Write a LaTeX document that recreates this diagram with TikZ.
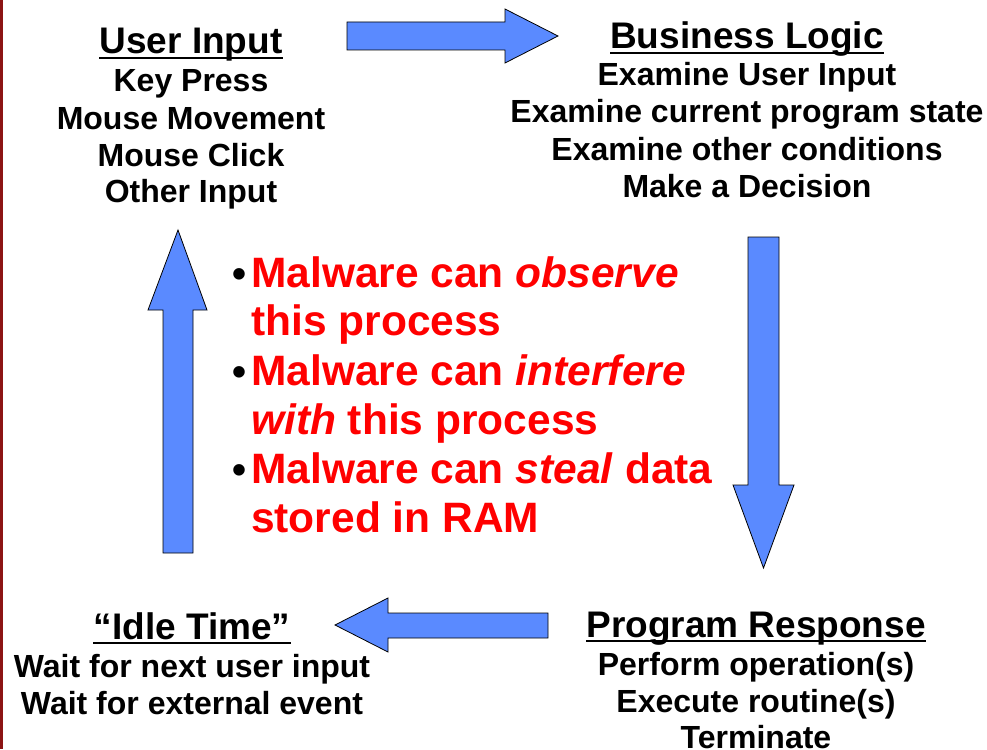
\documentclass[tikz,border=0pt]{standalone}
\usepackage{fontspec}
\setmainfont{Liberation Sans}
\definecolor{arrowblue}{RGB}{90,138,255}
\definecolor{slidered}{RGB}{255,0,0}
\definecolor{barred}{RGB}{140,20,20}
\begin{document}
\begin{tikzpicture}[x=1pt,y=-1pt,
  blockarrow/.style={fill=arrowblue,draw=black,line width=0.8pt,line join=miter},
  ttl/.style={inner sep=0pt,anchor=base,font=\fontsize{37}{37}\selectfont\bfseries},
  bodyline/.style={inner sep=0pt,anchor=base,font=\fontsize{32}{32}\selectfont\bfseries},
  redline/.style={inner sep=0pt,anchor=base west,text=slidered,font=\fontsize{42.5}{42.5}\selectfont\bfseries},
  bul/.style={inner sep=0pt,anchor=base,font=\fontsize{40}{40}\selectfont\bfseries},
  uline/.style={line width=2.5pt}]
\useasboundingbox (0,0) rectangle (987,749);
\fill[white] (0,0) rectangle (987,749);
\fill[barred] (0,0) rectangle (3,749);

% block arrows
\draw[blockarrow] (347,22) -- (505,22) -- (505,9) -- (558,36) -- (505,63) -- (505,50) -- (347,50) -- cycle;
\draw[blockarrow] (748,237) -- (779,237) -- (779,485) -- (794,485) -- (763.5,568) -- (733,485) -- (748,485) -- cycle;
\draw[blockarrow] (163,553) -- (193,553) -- (193,310) -- (207,310) -- (178,230) -- (148,310) -- (163,310) -- cycle;
\draw[blockarrow] (548,613) -- (388,613) -- (388,598) -- (335,625) -- (388,652) -- (388,638) -- (548,638) -- cycle;

% User Input
\node[ttl] (uiT) at (191,54) {User Input};
\draw[uline] ([yshift=-4pt]uiT.base west) -- ([yshift=-4pt]uiT.base east);
\node[bodyline] (ui1) at (191,92) {Key Press};
\node[bodyline] (ui2) at (191,129) {Mouse Movement};
\node[bodyline] (ui3) at (191,166) {Mouse Click};
\node[bodyline] (ui4) at (191,202) {Other Input};

% Business Logic
\node[ttl] (blT) at (747,49) {Business Logic};
\draw[uline] ([yshift=-4pt]blT.base west) -- ([yshift=-4pt]blT.base east);
\node[bodyline] (bl1) at (747,86) {Examine User Input};
\node[bodyline] (bl2) at (747,123) {Examine current program state};
\node[bodyline] (bl3) at (747,160) {Examine other conditions};
\node[bodyline] (bl4) at (747,197) {Make a Decision};

% Program Response
\node[ttl] (prT) at (756,637) {Program Response};
\draw[uline] ([yshift=-4pt]prT.base west) -- ([yshift=-4pt]prT.base east);
\node[bodyline] (pr1) at (756,675) {Perform operation(s)};
\node[bodyline] (pr2) at (756,712) {Execute routine(s)};
\node[bodyline] (pr3) at (756,748) {Terminate};

% Idle Time
\node[ttl] (itT) at (192,639) {“Idle Time”};
\draw[uline] ([yshift=-4pt]itT.base west) -- ([yshift=-4pt]itT.base east);
\node[bodyline] (it1) at (192,677) {Wait for next user input};
\node[bodyline] (it2) at (192,714) {Wait for external event};

% red bullets
\node[bul] (b1) at (239,287) {•};
\node[redline] (r1) at (251,287) {Malware can \textit{observe}};
\node[redline] (r2) at (251,335) {this process};
\node[bul] (b2) at (239,385) {•};
\node[redline] (r3) at (251,385) {Malware can \textit{interfere}};
\node[redline] (r4) at (251,434) {\textit{with} this process};
\node[bul] (b3) at (239,483) {•};
\node[redline] (r5) at (251,483) {Malware can \textit{steal} data};
\node[redline] (r6) at (251,532) {stored in RAM};
\end{tikzpicture}
\end{document}
